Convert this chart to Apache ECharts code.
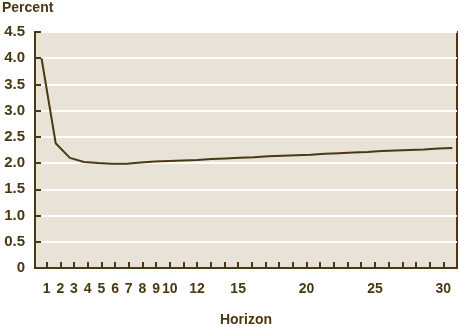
<!DOCTYPE html>
<html>
<head>
<meta charset="utf-8">
<script src="https://cdn.jsdelivr.net/npm/echarts@6/dist/echarts.min.js"></script>
<style>
  html, body { margin: 0; padding: 0; background: #fff; }
  #chart { width: 460px; height: 332px; }
</style>
</head>
<body>
<div id="chart"></div>
<script>
// horizons 1..30 and the plotted percent values
const horizons = [1, 2, 3, 4, 5, 6, 7, 8, 9, 10,
  11, 12, 13, 14, 15, 16, 17, 18, 19, 20,
  21, 22, 23, 24, 25, 26, 27, 28, 29, 30];
const percent = [4.0, 2.38, 2.10, 2.02, 2.00, 1.99, 1.99, 2.01, 2.03, 2.04,
  2.05, 2.06, 2.08, 2.09, 2.10, 2.11, 2.13, 2.14, 2.15, 2.16,
  2.18, 2.19, 2.20, 2.21, 2.23, 2.24, 2.25, 2.26, 2.28, 2.29];
const xTicks = horizons;
const xLabels = [1, 2, 3, 4, 5, 6, 7, 8, 9, 10, 12, 15, 20, 25, 30];

const brown = '#4a3812';
const font = '"Liberation Sans", Arial, sans-serif';

const chart = echarts.init(document.getElementById('chart'), null, { renderer: 'canvas' });

chart.setOption({
  animation: false,
  title: {
    text: 'Percent',
    left: 2,
    top: 1,
    padding: 0,
    textStyle: { color: brown, fontFamily: font, fontWeight: 'bold', fontSize: 14 }
  },
  grid: {
    left: 35, right: 3, top: 32, bottom: 64,
    show: true,
    backgroundColor: '#e9e2d7',
    borderColor: brown,
    borderWidth: 2
  },
  xAxis: [{
    type: 'value',
    min: 0.15,
    max: 31,
    name: 'Horizon',
    nameLocation: 'middle',
    nameGap: 45,
    nameTextStyle: { color: brown, fontFamily: font, fontWeight: 'bold', fontSize: 14 },
    axisLine: { lineStyle: { color: brown, width: 2 } },
    axisTick: { inside: true, length: 6, customValues: xTicks, lineStyle: { color: brown, width: 2 } },
    axisLabel: {
      customValues: xLabels,
      margin: 14,
      color: brown, fontFamily: font, fontWeight: 'bold', fontSize: 14
    },
    splitLine: { show: false }
  }, {
    type: 'value',
    min: 0.54,
    max: 30.33,
    show: false
  }],
  yAxis: {
    type: 'value',
    min: 0,
    max: 4.5,
    interval: 0.5,
    axisLine: { show: true, lineStyle: { color: brown, width: 2 } },
    axisTick: { show: true, inside: true, length: 6, lineStyle: { color: brown, width: 2 } },
    axisLabel: {
      margin: 10,
      color: brown, fontFamily: font, fontWeight: 'bold', fontSize: 15,
      formatter: v => (v === 0 ? '0' : v.toFixed(1))
    },
    splitLine: { show: true, lineStyle: { color: '#ffffff', width: 2 } }
  },
  series: [{
    type: 'line',
    xAxisIndex: 1,
    data: horizons.map((h, i) => [h, percent[i]]),
    showSymbol: false,
    lineStyle: { color: brown, width: 2 },
    z: 5
  }]
});
</script>
</body>
</html>
